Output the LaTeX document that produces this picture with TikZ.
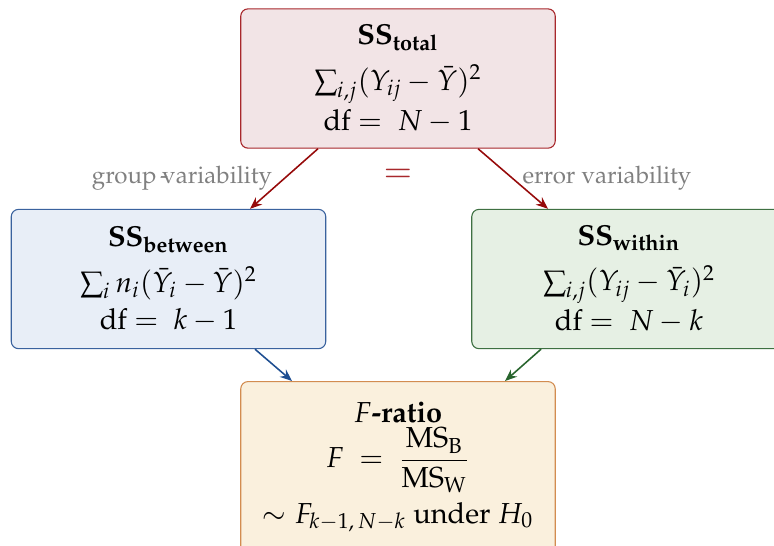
\documentclass[tikz,border=0pt]{standalone}
\usepackage[T1]{fontenc}
\usepackage{mathpazo}
\usepackage{amsmath}
\usepackage{xcolor}
\usepackage{tikz}
\usetikzlibrary{arrows.meta,positioning,calc}
\definecolor{totalfill}{RGB}{242,228,230}
\definecolor{totaldraw}{RGB}{168,40,44}
\definecolor{betweenfill}{RGB}{232,238,247}
\definecolor{betweendraw}{RGB}{58,98,158}
\definecolor{withinfill}{RGB}{230,240,228}
\definecolor{withindraw}{RGB}{62,112,66}
\definecolor{ratiofill}{RGB}{250,240,221}
\definecolor{ratiodraw}{RGB}{210,140,80}
\definecolor{redarrow}{RGB}{150,10,10}
\definecolor{bluearrow}{RGB}{30,78,145}
\definecolor{greenarrow}{RGB}{40,100,45}

\begin{document}
\begin{tikzpicture}[
      x=0.415pt, y=-0.415pt,
      ssbox/.style={rectangle, rounded corners=3pt, line width=0.45pt,
                    minimum width=130.5pt, minimum height=57.8pt,
                    align=center, font=\large},
      sstext/.style={align=center, font=\large},
      arrow/.style={-{Stealth[length=5pt,width=4pt]}, line width=0.65pt},
      note/.style={text=gray, font=\normalsize}
    ]
      \useasboundingbox (0,0) rectangle (774,545);
      \clip (0,0) rectangle (774,545);
      %% Total sum of squares
      \node[ssbox, fill=totalfill, draw=totaldraw] (total) at (398,78.5)
            {$\textbf{SS}_{\textbf{total}}$\\[5pt]
             $\sum_{i,j}(Y_{ij}-\bar{Y})^2$\\[1.5pt]
             df $=\ N-1$};
      %% Between and within
      \node[ssbox, fill=betweenfill, draw=betweendraw] (between) at (168.5,279)
            {$\textbf{SS}_{\textbf{between}}$\\[5pt]
             $\sum_{i} n_i(\bar{Y}_i-\bar{Y})^2$\\[1.5pt]
             df $=\ k-1$};
      \node[ssbox, fill=withinfill, draw=withindraw] (within) at (629,279)
            {$\textbf{SS}_{\textbf{within}}$\\[5pt]
             $\sum_{i,j}(Y_{ij}-\bar{Y}_i)^2$\\[1.5pt]
             df $=\ N-k$};
      %% F-ratio
      \node[ssbox, fill=ratiofill, draw=ratiodraw, minimum height=75pt,
            anchor=north] (ratio) at (398,381) {};
      \node[sstext, anchor=north] (ratiotext) at ($(ratio.north)+(0,13)$)
            {$F$\textbf{-ratio}\\[1pt]
             $F\ =\ \dfrac{\text{MS}_{\text{B}}}{\text{MS}_{\text{W}}}$\\[3pt]
             $\sim F_{k-1,\,N-k}$ under $H_0$};
      %% Partition arrows
      \draw[arrow, redarrow] ($(total.south)+(-80,0)$) -- ($(between.north)+(81.5,0)$);
      \draw[arrow, redarrow] ($(total.south)+(80,0)$) -- ($(within.north)+(-81,0)$);
      \draw[arrow, bluearrow] ($(between.south)+(86.5,0)$) -- ($(ratio.north)+(-106,0)$);
      \draw[arrow, greenarrow] ($(within.south)+(-88,0)$) -- ($(ratio.north)+(107,0)$);
      %% Labels
      \node[note] (grouplbl) at (182,178) {group\kern.15em-\kern-.25em variability};
      \node[note] (errorlbl) at (607,178) {error variability};
      \node[text=totaldraw, font=\Large] (equals) at (398,176) {$=$};
\end{tikzpicture}
\end{document}
